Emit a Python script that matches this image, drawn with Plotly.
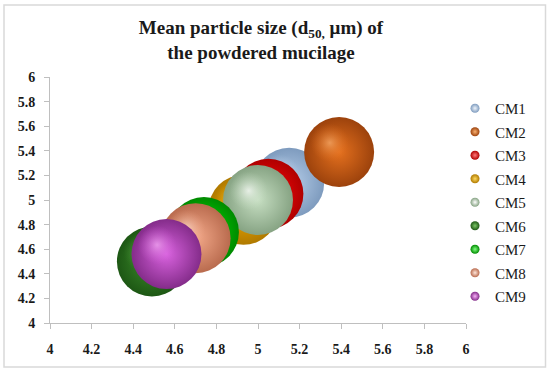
import plotly.graph_objects as go

names = ["CM1", "CM2", "CM3", "CM4", "CM5", "CM6", "CM7", "CM8", "CM9"]
x_vals = [5.15, 5.39, 5.05, 4.93, 5.00, 4.49, 4.74, 4.70, 4.56]
y_vals = [5.14, 5.39, 5.05, 4.92, 5.00, 4.50, 4.74, 4.69, 4.56]
bubble_vals = [1, 1, 1, 1, 1, 1, 1, 1, 1]
tick_vals = [4, 4.2, 4.4, 4.6, 4.8, 5, 5.2, 5.4, 5.6, 5.8, 6]
tick_text = ["4", "4.2", "4.4", "4.6", "4.8", "5", "5.2", "5.4", "5.6", "5.8", "6"]

# (edge, base, highlight) per series
colors = [
    ("#7E9BBE", "#B7CFEA", "#EEF4FB"),
    ("#9C420C", "#E4701E", "#F9B070"),
    ("#B00000", "#FF0A0A", "#FF7A7A"),
    ("#B07A00", "#F2AA00", "#FFDA60"),
    ("#86A383", "#C6DEC2", "#FFFFFF"),
    ("#1D5714", "#3D8E2C", "#7CC766"),
    ("#008A00", "#00E600", "#80FF80"),
    ("#B96B4E", "#F3A98A", "#FFE6DA"),
    ("#842C8A", "#D862DE", "#F8B0F8"),
]

DIAM = 70
sizeref = max(bubble_vals) / DIAM
serif = "Liberation Serif"

def rgba(hexc, a):
    h = hexc.lstrip("#")
    return "rgba(%d,%d,%d,%s)" % (int(h[0:2], 16), int(h[2:4], 16), int(h[4:6], 16), a)

fig = go.Figure()
for i, n in enumerate(names):
    edge, base, hi = colors[i]
    fig.add_trace(go.Scatter(
        x=[x_vals[i]], y=[y_vals[i]], mode="markers", name=n, showlegend=False,
        marker=dict(size=[bubble_vals[i]], sizemode="diameter", sizeref=sizeref,
                    color=edge, opacity=1,
                    gradient=dict(type="radial", color=base),
                    line=dict(width=0)),
        hoverinfo="name+x+y"))
    # specular highlight
    fig.add_trace(go.Scatter(
        x=[x_vals[i] - 0.045], y=[y_vals[i] + 0.075], mode="markers", showlegend=False,
        marker=dict(size=[bubble_vals[i] * 0.55], sizemode="diameter", sizeref=sizeref,
                    color=rgba(base, 0),
                    gradient=dict(type="radial", color=hi),
                    line=dict(width=0)),
        hoverinfo="skip"))

for i, n in enumerate(names):
    edge, base, hi = colors[i]
    fig.add_trace(go.Scatter(
        x=[None], y=[None], mode="markers", name=n, legendgroup=n,
        marker=dict(size=9, color=edge, gradient=dict(type="radial", color=hi),
                    line=dict(width=0))))

axis_common = dict(
    range=[4, 6], tickvals=tick_vals, ticktext=tick_text,
    showgrid=False, zeroline=False, showline=True, linecolor="#BFBFBF", linewidth=1,
    ticks="outside", ticklen=5, tickcolor="#BFBFBF",
    tickfont=dict(family=serif, size=14, color="#1a1a1a", weight="bold"),
    automargin=False,
)

fig.update_layout(
    width=550, height=373,
    margin=dict(l=50, r=84, t=77, b=50, autoexpand=False),
    paper_bgcolor="white", plot_bgcolor="white",
    title=dict(text="Mean particle size (d<sub>50,</sub> μm) of<br>the powdered mucilage",
               x=261 / 550, xanchor="center", y=1 - 34 / 373, yanchor="top",
               font=dict(family=serif, size=19, color="#1a1a1a", weight="bold")),
    xaxis=dict(axis_common, ticklabelstandoff=8),
    yaxis=dict(axis_common, ticklabelstandoff=6),
    showlegend=True,
    legend=dict(xref="container", yref="container", x=467 / 550, xanchor="left",
                y=1 - 92 / 373, yanchor="top", maxheight=280, indentation=-12,
                font=dict(family=serif, size=15, color="#1a1a1a"),
                tracegroupgap=1, itemsizing="trace", itemwidth=30,
                bgcolor="rgba(0,0,0,0)", borderwidth=0),
    shapes=[dict(type="rect", xref="paper", yref="paper",
                 x0=(4 - 50) / 416, x1=(545.5 - 50) / 416,
                 y0=(323 - 367) / 246, y1=(323 - 5) / 246,
                 line=dict(color="#D9D9D9", width=1.5), fillcolor="rgba(0,0,0,0)", layer="below")],
)

fig.write_html("out.html", post_script="document.body.style.margin='0';",
               config={"displayModeBar": False})
